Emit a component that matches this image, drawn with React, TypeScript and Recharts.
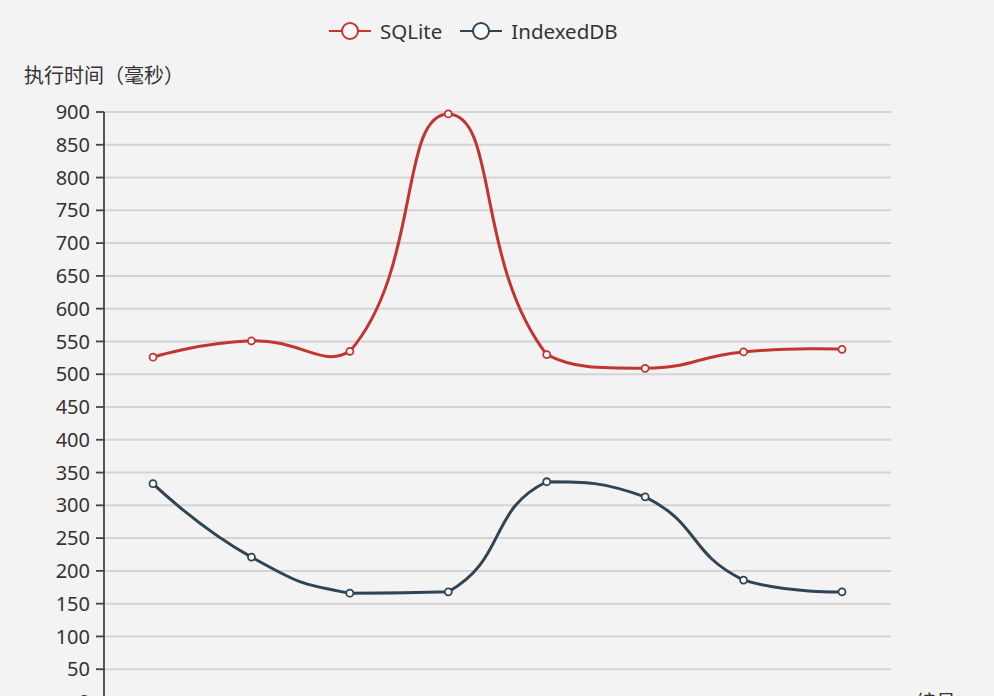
import { LineChart, Line, XAxis, YAxis, CartesianGrid, Legend, Label } from 'recharts';

const ids = ['1', '2', '3', '4', '5', '6', '7', '8'];
const sqlite = [526, 551, 535, 897, 530, 509, 534, 538];
const indexeddb = [333, 221, 166, 168, 336, 313, 186, 168];
const yTicks = [0, 50, 100, 150, 200, 250, 300, 350, 400, 450, 500, 550, 600, 650, 700, 750, 800, 850, 900];

const seriesNames = ['SQLite', 'IndexedDB'];
const seriesColors = ['#c23531', '#2f4554'];

const data = ids.map((id, i) => ({ id, SQLite: sqlite[i], IndexedDB: indexeddb[i] }));

const FONT = '"Noto Sans", "Noto Sans CJK SC", sans-serif';

// echarts-like smooth line (smooth: true -> 0.5), clamped to the bounding box of the points
function echartsSmooth(context: any) {
  let xs: number[] = [];
  let ys: number[] = [];
  const smooth = 0.5;
  return {
    areaStart() {},
    areaEnd() {},
    lineStart() {
      xs = [];
      ys = [];
    },
    point(x: number, y: number) {
      xs.push(+x);
      ys.push(+y);
    },
    lineEnd() {
      const n = xs.length;
      if (!n) return;
      context.moveTo(xs[0], ys[0]);
      if (n === 1) return;
      const minX = Math.min(...xs), maxX = Math.max(...xs);
      const minY = Math.min(...ys), maxY = Math.max(...ys);
      const clampX = (v: number) => Math.min(maxX, Math.max(minX, v));
      const clampY = (v: number) => Math.min(maxY, Math.max(minY, v));
      const cps: [number, number][] = [];
      for (let i = 0; i < n; i++) {
        if (i === 0 || i === n - 1) {
          cps.push([xs[i], ys[i]]);
          continue;
        }
        const vx = (xs[i + 1] - xs[i - 1]) * smooth;
        const vy = (ys[i + 1] - ys[i - 1]) * smooth;
        let d0 = Math.hypot(xs[i] - xs[i - 1], ys[i] - ys[i - 1]);
        let d1 = Math.hypot(xs[i + 1] - xs[i], ys[i + 1] - ys[i]);
        const sum = d0 + d1;
        if (sum !== 0) {
          d0 /= sum;
          d1 /= sum;
        }
        cps.push([clampX(xs[i] - vx * d0), clampY(ys[i] - vy * d0)]);
        cps.push([clampX(xs[i] + vx * d1), clampY(ys[i] + vy * d1)]);
      }
      for (let i = 0; i < n - 1; i++) {
        const a = cps[2 * i];
        const b = cps[2 * i + 1];
        context.bezierCurveTo(a[0], a[1], b[0], b[1], xs[i + 1], ys[i + 1]);
      }
    },
  };
}

function LegendContent() {
  return (
    <div style={{ display: 'flex', alignItems: 'center', paddingLeft: 329, fontFamily: FONT }}>
      {seriesNames.map((name, i) => (
        <div key={name} style={{ display: 'flex', alignItems: 'center', marginRight: 18 }}>
          <svg width={42} height={22}>
            <line x1={0} y1={11} x2={42} y2={11} stroke={seriesColors[i]} strokeWidth={2} />
            <circle cx={21} cy={11} r={8} fill="#fff" stroke={seriesColors[i]} strokeWidth={2} />
          </svg>
          <span style={{ marginLeft: 9, fontSize: 20.5, color: '#333', lineHeight: '22px' }}>{name}</span>
        </div>
      ))}
    </div>
  );
}

export default function App() {
  return (
    <div style={{ position: 'absolute', left: 0, top: 0, width: 994, height: 696, overflow: 'hidden', background: '#f3f3f3' }}>
      <LineChart width={994} height={760} data={data} margin={{ top: 112, right: 103, bottom: 28, left: 0 }}>
        <CartesianGrid vertical={false} stroke="#d4d4d4" strokeWidth={2} />
        <XAxis
          dataKey="id"
          height={30}
          padding={{ left: 49, right: 49 }}
          stroke="#444"
          strokeWidth={1.8}
          tick={false}
          tickSize={8}
        >
          <Label
            content={(props: any) => {
              const vb = props.viewBox || { x: 104, y: 702, width: 787 };
              return (
                <text x={vb.x + vb.width + 25} y={vb.y} dominantBaseline="central" fill="#333" fontSize={20} fontFamily={FONT}>
                  编号
                </text>
              );
            }}
          />
        </XAxis>
        <YAxis
          width={104}
          domain={[0, 900]}
          ticks={yTicks}
          interval={0}
          stroke="#444"
          strokeWidth={1.8}
          tickSize={8}
          tickMargin={6}
          tick={{ fill: '#333', fontSize: 20, fontFamily: FONT }}
        >
          <Label
            content={(props: any) => {
              const vb = props.viewBox || { x: 0, y: 112, width: 104 };
              return (
                <text x={vb.x + vb.width} y={vb.y - 37} textAnchor="middle" dominantBaseline="central" fill="#333" fontSize={20} fontFamily={FONT}>
                  执行时间（毫秒）
                </text>
              );
            }}
          />
        </YAxis>
        <Legend
          verticalAlign="middle"
          align="center"
          layout="horizontal"
          wrapperStyle={{ top: 20, left: 0, width: 994 }}
          content={() => <LegendContent />}
        />
        {seriesNames.map((name, i) => (
          <Line
            key={name}
            dataKey={name}
            type={echartsSmooth as any}
            stroke={seriesColors[i]}
            strokeWidth={3}
            dot={{ r: 3.5, fill: '#fff', stroke: seriesColors[i], strokeWidth: 1.8 }}
            activeDot={false}
            isAnimationActive={false}
          />
        ))}
      </LineChart>
    </div>
  );
}
